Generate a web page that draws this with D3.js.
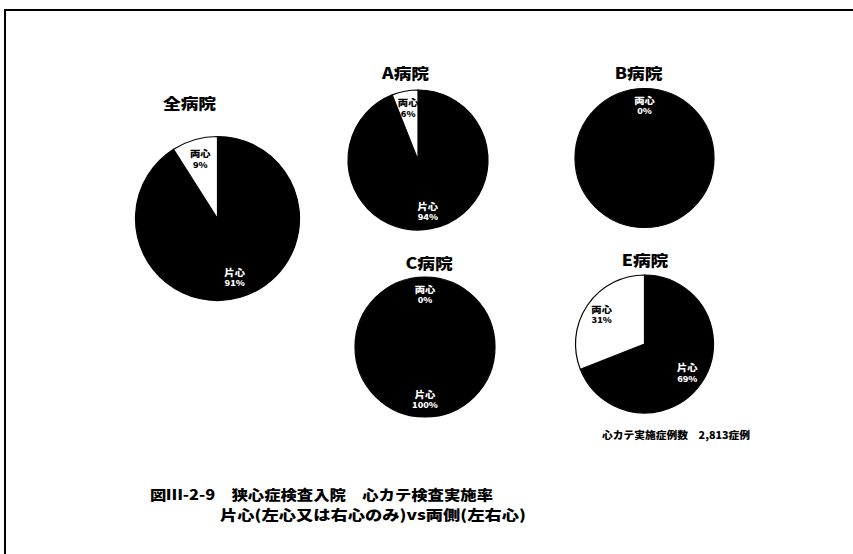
<!DOCTYPE html>
<html>
<head>
<meta charset="utf-8">
<script src="https://cdn.jsdelivr.net/npm/d3@7"></script>
<style>
  body { margin: 0; background: #fff; }
  svg { display: block; }
  text { font-family: "Noto Sans CJK JP", "Noto Sans", sans-serif; font-weight: 900; }
</style>
</head>
<body>
<script>
// values
var hospitals = ["全病院", "A病院", "B病院", "C病院", "E病院"];
var sliceNames = ["片心", "両心"];
var henshin = [91, 94, 100, 100, 69];   // 片心 %
var ryoshin = [9, 6, 0, 0, 31];         // 両心 %
var showHenshinLabel = [true, true, false, true, true];

var caption1 = "図Ⅲ-2-9　狭心症検査入院　心カテ検査実施率";
var caption2 = "片心(左心又は右心のみ)vs両側(左右心)";
var footnote = "心カテ実施症例数　2,813症例";

// layout: pie centers, radii and title spots
var layout = [
  {cx: 217.5, cy: 218.5, r: 82, tx: 189.5, ty: 103},
  {cx: 418, cy: 160, r: 70, tx: 405.5, ty: 73},
  {cx: 644.5, cy: 158, r: 69.5, tx: 638.5, ty: 73},
  {cx: 425, cy: 347, r: 70, tx: 429, ty: 263},
  {cx: 644.5, cy: 344, r: 69, tx: 645, ty: 260}
];

var width = 853, height = 554;

var svg = d3.select("body").append("svg")
  .attr("width", width)
  .attr("height", height);

// frame lines (left and top)
svg.append("path")
  .attr("d", "M5,554 L5,10 L853,10")
  .attr("fill", "none")
  .attr("stroke", "#000")
  .attr("stroke-width", 2);

var pie = d3.pie().sort(null).startAngle(0).endAngle(2 * Math.PI);

hospitals.forEach(function(name, i) {
  var L = layout[i];
  var g = svg.append("g").attr("transform", "translate(" + L.cx + "," + L.cy + ")");

  var arcs = pie([henshin[i], ryoshin[i]]);
  var arc = d3.arc().innerRadius(0).outerRadius(L.r);
  var labelArc = d3.arc().innerRadius(L.r * 0.75).outerRadius(L.r * 0.75);

  g.selectAll("path")
    .data(arcs)
    .enter().append("path")
    .attr("d", arc)
    .attr("fill", function(d, j) { return j === 0 ? "#000" : "#fff"; })
    .attr("stroke", "#000")
    .attr("stroke-width", 1.2);

  // slice labels: name + percent (wide, heavy look of the scan)
  arcs.forEach(function(d, j) {
    if (j === 0 && !showHenshinLabel[i]) return;
    var c = labelArc.centroid(d);
    var fill = (j === 1 && d.value > 0) ? "#000" : "#fff";
    var lg = g.append("g")
      .attr("transform", "translate(" + c[0] + "," + c[1] + ") scale(1.15,1)")
      .attr("fill", fill)
      .attr("text-anchor", "middle");
    lg.append("text").attr("y", -2).attr("font-size", 9).text(sliceNames[j]);
    lg.append("text").attr("y", 8.5).attr("font-size", 8).text(d.value + "%");
  });

  svg.append("text")
    .attr("text-anchor", "middle")
    .attr("font-size", 15)
    .attr("transform", "translate(" + L.tx + "," + (L.ty + 6) + ") scale(1.18,1)")
    .text(name);
});

svg.append("text")
  .attr("x", 602)
  .attr("y", 439)
  .attr("font-size", 10.5)
  .attr("textLength", 148)
  .attr("lengthAdjust", "spacingAndGlyphs")
  .text(footnote);

svg.append("text")
  .attr("x", 150)
  .attr("y", 500)
  .attr("font-size", 14)
  .attr("textLength", 343)
  .attr("lengthAdjust", "spacingAndGlyphs")
  .text(caption1);

svg.append("text")
  .attr("x", 220)
  .attr("y", 520)
  .attr("font-size", 14)
  .attr("textLength", 306)
  .attr("lengthAdjust", "spacingAndGlyphs")
  .text(caption2);
</script>
</body>
</html>
